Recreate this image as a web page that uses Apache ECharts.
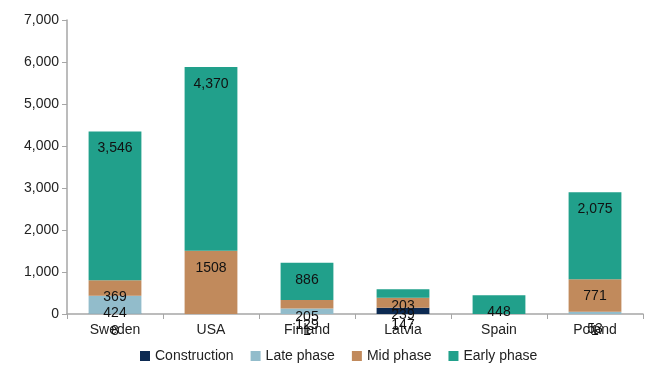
<!DOCTYPE html>
<html>
<head>
<meta charset="utf-8">
<script src="https://cdn.jsdelivr.net/npm/echarts@6/dist/echarts.min.js"></script>
<style>
  html, body { margin: 0; padding: 0; background: #fff; }
  #chart { width: 648px; height: 368px; }
</style>
</head>
<body>
<div id="chart"></div>
<script>
  var countries = ["Sweden", "USA", "Finland", "Latvia", "Spain", "Poland"];
  var construction = [8, null, 1, 147, null, 1];
  var latePhase = [424, null, 129, null, null, 53];
  var midPhase = [369, 1508, 205, 239, null, 771];
  var earlyPhase = [3546, 4370, 886, 203, 448, 2075];

  var yTicks = [0, 1000, 2000, 3000, 4000, 5000, 6000, 7000];

  var font = "Liberation Sans, Arial, sans-serif";

  function makeSeries(name, data, color, withComma) {
    return {
      name: name,
      type: "bar",
      stack: "total",
      data: data,
      barWidth: "55%",
      itemStyle: { color: color },
      label: {
        show: true,
        position: "insideTop",
        distance: 10,
        color: "#111",
        fontFamily: font,
        fontSize: 14,
        formatter: function (p) {
          if (p.value == null) return "";
          return withComma ? p.value.toLocaleString("en-US") : String(p.value);
        }
      },
      emphasis: { disabled: true }
    };
  }

  var chart = echarts.init(document.getElementById("chart"));
  chart.setOption({
    animation: false,
    grid: { left: 67, right: 5, top: 20, bottom: 54 },
    legend: {
      bottom: 0,
      left: 135,
      itemWidth: 10,
      itemHeight: 10,
      itemGap: 17,
      icon: "rect",
      textStyle: { fontFamily: font, fontSize: 14, color: "#222" },
      data: ["Construction", "Late phase", "Mid phase", "Early phase"]
    },
    xAxis: {
      type: "category",
      data: countries,
      axisLine: { lineStyle: { color: "#a6a6a6", width: 1.5 } },
      axisTick: { show: true, length: 5, lineStyle: { color: "#a6a6a6" } },
      axisLabel: { fontFamily: font, fontSize: 14, color: "#222", margin: 9 }
    },
    yAxis: {
      type: "value",
      min: yTicks[0],
      max: yTicks[yTicks.length - 1],
      interval: 1000,
      splitLine: { show: false },
      axisLine: { show: true, lineStyle: { color: "#a6a6a6", width: 1.5 } },
      axisTick: { show: true, length: 5, lineStyle: { color: "#a6a6a6" } },
      axisLabel: {
        fontFamily: font,
        fontSize: 14,
        color: "#222",
        margin: 8,
        formatter: function (v) { return v.toLocaleString("en-US"); }
      }
    },
    series: [
      makeSeries("Construction", construction, "#0c2a52", false),
      makeSeries("Late phase", latePhase, "#92bccb", false),
      makeSeries("Mid phase", midPhase, "#c18a5c", false),
      makeSeries("Early phase", earlyPhase, "#21a08b", true)
    ]
  });
</script>
</body>
</html>
